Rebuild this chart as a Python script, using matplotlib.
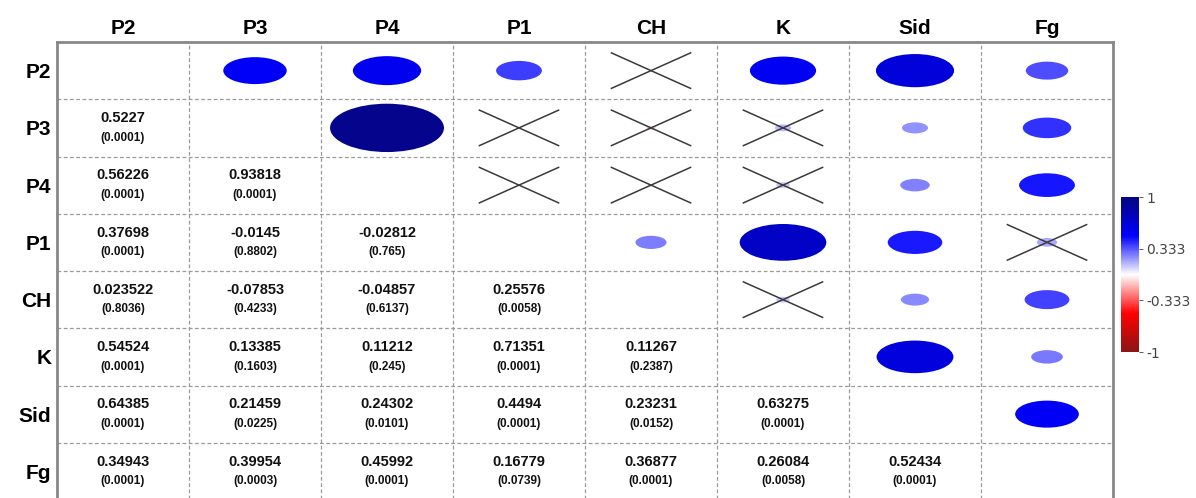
import matplotlib
matplotlib.use("Agg")
import matplotlib.pyplot as plt
import numpy as np
from matplotlib.patches import Ellipse
from matplotlib.colors import LinearSegmentedColormap, Normalize
import matplotlib.cm as cm

variables = ["P2", "P3", "P4", "P1", "CH", "K", "Sid", "Fg"]

# lower-triangle correlation values (row i, columns 0..i-1)
r_rows = [
    [],
    [0.5227],
    [0.56226, 0.93818],
    [0.37698, -0.0145, -0.02812],
    [0.023522, -0.07853, -0.04857, 0.25576],
    [0.54524, 0.13385, 0.11212, 0.71351, 0.11267],
    [0.64385, 0.21459, 0.24302, 0.4494, 0.23231, 0.63275],
    [0.34943, 0.39954, 0.45992, 0.16779, 0.36877, 0.26084, 0.52434],
]
p_rows = [
    [],
    ["0.0001"],
    ["0.0001", "0.0001"],
    ["0.0001", "0.8802", "0.765"],
    ["0.8036", "0.4233", "0.6137", "0.0058"],
    ["0.0001", "0.1603", "0.245", "0.0001", "0.2387"],
    ["0.0001", "0.0225", "0.0101", "0.0001", "0.0152", "0.0001"],
    ["0.0001", "0.0003", "0.0001", "0.0739", "0.0001", "0.0058", "0.0001"],
]
r_labels = [
    [],
    ["0.5227"],
    ["0.56226", "0.93818"],
    ["0.37698", "-0.0145", "-0.02812"],
    ["0.023522", "-0.07853", "-0.04857", "0.25576"],
    ["0.54524", "0.13385", "0.11212", "0.71351", "0.11267"],
    ["0.64385", "0.21459", "0.24302", "0.4494", "0.23231", "0.63275"],
    ["0.34943", "0.39954", "0.45992", "0.16779", "0.36877", "0.26084", "0.52434"],
]
alpha = 0.05
cbar_ticks = [-1, -0.333, 0.333, 1]
cbar_ticklabels = ["-1", "-0.333", "0.333", "1"]

cmap = LinearSegmentedColormap.from_list(
    "corr",
    [(0.0, "#8b1515"), (0.25, "#ff0000"), (0.5, "#ffffff"),
     (0.75, "#0000ff"), (1.0, "#05057f")])
norm = Normalize(-1, 1)

W, H = 1196, 498
fig = plt.figure(figsize=(W / 100, H / 100), dpi=100)
left, right, top, bottom = 57, 1113, 42, 500
ax = fig.add_axes([left / W, (H - bottom) / H, (right - left) / W, (bottom - top) / H])
n = len(variables)
ax.set_xlim(0, n)
ax.set_ylim(n, 0)

for i in range(n):
    for j in range(i):
        r = r_rows[i][j]
        p = float(p_rows[i][j])
        # lower triangle: text
        ax.text(j + 0.5, i + 0.5 - 0.17, r_labels[i][j], ha="center", va="center",
                fontsize=10.5, fontweight="bold", family="Liberation Sans", color="#111111")
        ax.text(j + 0.5, i + 0.5 + 0.17, "(" + p_rows[i][j] + ")", ha="center", va="center",
                fontsize=8.5, fontweight="bold", family="Liberation Sans", color="#111111")
        # upper triangle: ellipse at (row j, col i)
        cx, cy = i + 0.5, j + 0.5
        e = Ellipse((cx, cy), width=0.92 * abs(r), height=0.9 * abs(r),
                    facecolor=cmap(norm(r)), edgecolor="none", zorder=2)
        ax.add_patch(e)
        if p > alpha:
            dx, dy = 0.30, 0.31
            ax.plot([cx - dx, cx + dx], [cy - dy, cy + dy], color="#3a3a3a", lw=1.1, zorder=3)
            ax.plot([cx - dx, cx + dx], [cy + dy, cy - dy], color="#3a3a3a", lw=1.1, zorder=3)

for k in range(1, n):
    ax.axhline(k, color="#9a9a9a", lw=0.9, ls=(0, (3, 2)), zorder=1)
    ax.axvline(k, color="#9a9a9a", lw=0.9, ls=(0, (3, 2)), zorder=1)

for s in ["top", "left", "right"]:
    ax.spines[s].set_color("#888888")
    ax.spines[s].set_linewidth(2)
ax.spines["bottom"].set_visible(False)

centers = np.arange(n) + 0.5
ax.xaxis.tick_top()
ax.set_xticks(centers)
ax.set_xticklabels(variables, fontsize=15, fontweight="bold", family="Liberation Sans")
ax.set_yticks(centers)
ax.set_yticklabels(variables, fontsize=15, fontweight="bold", family="Liberation Sans")
ax.tick_params(axis="both", length=0)
ax.tick_params(axis="x", pad=3)
ax.tick_params(axis="y", pad=4)

cax = fig.add_axes([1121 / W, (H - 352) / H, 18 / W, 155 / H])
cb = fig.colorbar(cm.ScalarMappable(norm=norm, cmap=cmap), cax=cax, ticks=cbar_ticks)
cb.set_ticklabels(cbar_ticklabels)
cb.outline.set_linewidth(0)
cax.tick_params(labelsize=10, colors="#444444", length=3, width=0.6, pad=2)
for t in cax.get_yticklabels():
    t.set_family("DejaVu Sans")

fig.savefig("out.png", dpi=100)
